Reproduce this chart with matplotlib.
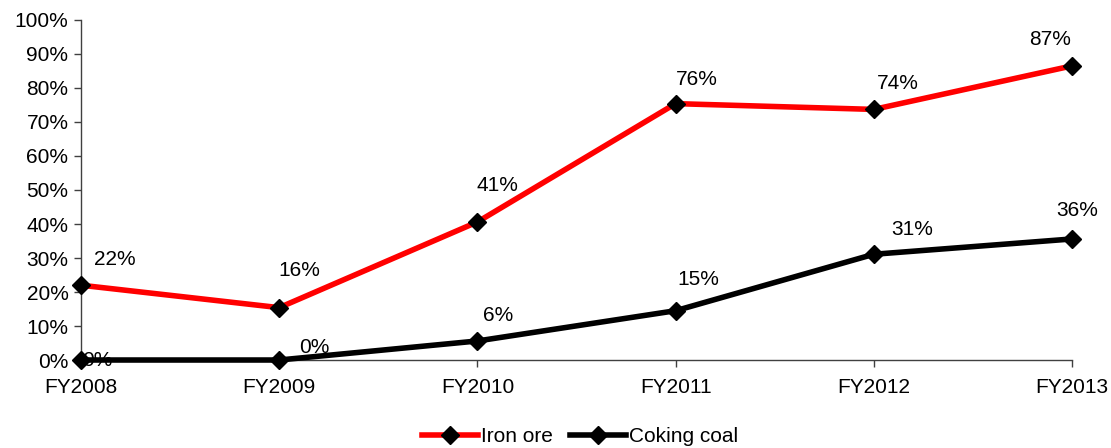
import matplotlib
matplotlib.use("Agg")
import matplotlib.pyplot as plt
from matplotlib.ticker import FuncFormatter

plt.rcParams['font.family'] = ['Liberation Sans', 'DejaVu Sans']

categories = ["FY2008", "FY2009", "FY2010", "FY2011", "FY2012", "FY2013"]
iron_ore = [22.0, 15.4, 40.6, 75.4, 73.7, 86.5]
coking_coal = [0.0, 0.0, 5.6, 14.5, 31.1, 35.6]
iron_labels = ["22%", "16%", "41%", "76%", "74%", "87%"]
coal_labels = ["0%", "0%", "6%", "15%", "31%", "36%"]

# label offsets in pixels (dx, dy) relative to the point
iron_off = [(34, 26), (20, 37), (20, 36), (21, 24), (24, 26), (-22, 26)]
coal_off = [(16, 0), (35, 13), (21, 25), (23, 31), (38, 25), (5, 28)]

FS = 15

fig = plt.figure(figsize=(11.11, 4.48), dpi=100)
ax = fig.add_axes([0.0729, 0.1964, 0.8920, 0.7590])

x = list(range(len(categories)))
ax.plot(x, iron_ore, color="#FF0000", lw=4.0, marker="D", ms=9,
        mfc="black", mec="black", label="Iron ore", zorder=3, clip_on=False)
ax.plot(x, coking_coal, color="black", lw=4.0, marker="D", ms=9,
        mfc="black", mec="black", label="Coking coal", zorder=3, clip_on=False)

for xi, v, t, o in zip(x, iron_ore, iron_labels, iron_off):
    ax.annotate(t, (xi, v), xytext=o, textcoords="offset pixels",
                ha="center", va="center", fontsize=FS, color="black")
for xi, v, t, o in zip(x, coking_coal, coal_labels, coal_off):
    ax.annotate(t, (xi, v), xytext=o, textcoords="offset pixels",
                ha="center", va="center", fontsize=FS, color="black", zorder=4)

ax.set_xlim(0, len(categories) - 1)
ax.set_ylim(0, 100)
ax.set_yticks(range(0, 101, 10))
ax.yaxis.set_major_formatter(FuncFormatter(lambda v, p: f"{int(v)}%"))
ax.set_xticks(x)
ax.set_xticklabels(categories)
ax.tick_params(axis="both", labelsize=FS, length=5, width=1, color="#404040", direction="out")
ax.tick_params(axis="x", pad=8)
ax.tick_params(axis="y", pad=4)
for s in ["top", "right"]:
    ax.spines[s].set_visible(False)
for s in ["left", "bottom"]:
    ax.spines[s].set_color("#404040")
    ax.spines[s].set_linewidth(1)

leg = fig.legend(loc="center", bbox_to_anchor=(0.522, 0.025), ncol=2, frameon=False,
                 fontsize=FS, handlelength=2.7, handletextpad=0.15, columnspacing=0.8,
                 borderpad=0.1)

fig.savefig("out.png", dpi=100)
